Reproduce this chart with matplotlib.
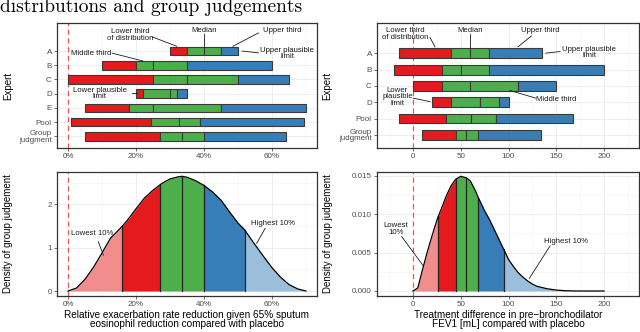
import numpy as np
import matplotlib.pyplot as plt
from matplotlib.ticker import MultipleLocator, FuncFormatter

plt.rcParams['font.family'] = ['Liberation Sans', 'DejaVu Sans']

RED = '#E41A1C'
GREEN = '#4DAF4A'
BLUE = '#377EB8'
LRED = '#F28D8E'
LBLUE = '#9BBEDB'

# exacerbation rate reduction: lower limit, 33%, median, 67%, upper limit
exa_experts = ['A', 'B', 'C', 'D', 'E', 'Pool', 'Group\njudgment']
exa_lower = [0.30, 0.10, 0.00, 0.20, 0.05, 0.01, 0.05]
exa_q33 = [0.35, 0.20, 0.25, 0.22, 0.18, 0.245, 0.27]
exa_median = [0.40, 0.25, 0.35, 0.30, 0.25, 0.327, 0.335]
exa_q67 = [0.45, 0.35, 0.50, 0.32, 0.45, 0.387, 0.40]
exa_upper = [0.50, 0.60, 0.65, 0.35, 0.70, 0.693, 0.64]

# FEV1 difference (mL)
fev_experts = ['A', 'B', 'C', 'D', 'Pool', 'Group\njudgment']
fev_lower = [-15, -20, 0, 20, -15, 9]
fev_q33 = [40, 30, 30, 40, 35, 44.5]
fev_median = [60, 50, 60, 70, 61, 56]
fev_q67 = [80, 80, 110, 90, 87, 68.5]
fev_upper = [135, 200, 150, 100, 167, 133.5]

# group judgement densities
exa_x = [0.0, 0.025, 0.05, 0.075, 0.10, 0.125, 0.15, 0.16, 0.175, 0.20, 0.225,
         0.25, 0.27, 0.275, 0.30, 0.325, 0.335, 0.35, 0.375, 0.40, 0.425, 0.45,
         0.475, 0.50, 0.52, 0.525, 0.55, 0.575, 0.60, 0.625, 0.65, 0.675, 0.70]
exa_dens = [0.00, 0.07, 0.27, 0.55, 0.88, 1.22, 1.42, 1.50, 1.64, 1.90, 2.15,
            2.33, 2.45, 2.48, 2.59, 2.64, 2.65, 2.63, 2.55, 2.44, 2.29, 2.10,
            1.83, 1.57, 1.41, 1.35, 1.07, 0.80, 0.54, 0.32, 0.15, 0.05, 0.00]
exa_quant = [0.16, 0.27, 0.335, 0.40, 0.52]

fev_x = [0, 5, 10, 15, 20, 25, 26.5, 30, 35, 40, 44.5, 50, 56, 60, 65, 68.5,
         75, 80, 85, 90, 95, 100, 105, 110, 115, 120, 125, 130, 140, 150, 160,
         170, 200]
fev_dens = [0.0, 0.0004, 0.0028, 0.0051, 0.0072, 0.0092, 0.0097, 0.0108,
            0.0124, 0.0137, 0.0145, 0.0149, 0.0147, 0.0143, 0.0131, 0.0121,
            0.0104, 0.0093, 0.0080, 0.0067, 0.0054, 0.0041, 0.0032, 0.0024,
            0.0018, 0.0013, 0.0009, 0.0006, 0.0003, 0.00012, 0.00003, 0.0, 0.0]
fev_quant = [26.5, 44.5, 56, 68.5, 95]


def style(ax):
    ax.grid(True, which='major', color='#EBEBEB', lw=0.6)
    ax.grid(True, which='minor', color='#F3F3F3', lw=0.4)
    ax.set_axisbelow(True)
    for s in ax.spines.values():
        s.set_color('#333333')
        s.set_linewidth(0.9)
    ax.tick_params(which='major', length=2.2, width=0.5, color='#333333',
                   labelcolor='#4D4D4D', labelsize=5.8, pad=1.5)
    ax.tick_params(which='minor', length=0)
    ax.axvline(0, color='#E8585A', ls=(0, (4, 3)), lw=0.9, zorder=1.5)


def expert_bars(ax, names, lo, q1, med, q2, hi):
    y = np.arange(len(names))[::-1] + 1
    for a, b, c in [(lo, q1, RED), (q1, med, GREEN), (med, q2, GREEN), (q2, hi, BLUE)]:
        ax.barh(y, np.array(b) - np.array(a), left=a, height=0.6, color=c,
                edgecolor='#3A3A3A', linewidth=0.8, zorder=3)
    ax.set_yticks(y, names)
    for lab in ax.get_yticklabels():
        lab.set_linespacing(0.85)
    ax.set_ylabel('Expert', fontsize=7.0)
    ax.yaxis.set_label_coords(-0.169, 0.5)


def density(ax, x, d, q):
    x = np.array(x)
    d = np.array(d)
    edges = [x[0]] + list(q) + [x[-1]]
    cols = [LRED, RED, GREEN, GREEN, BLUE, LBLUE]
    for a, b, c in zip(edges[:-1], edges[1:], cols):
        m = (x >= a - 1e-9) & (x <= b + 1e-9)
        ax.fill_between(x[m], 0, d[m], color=c, lw=0, zorder=2)
    for v in q:
        h = d[np.isclose(x, v)][0]
        ax.plot([v, v], [0, h], color='#222222', lw=0.9, zorder=3)
    ax.plot(x, d, color='black', lw=0.9, zorder=4)
    ax.set_ylabel('Density of group judgement', fontsize=7.0)
    ax.yaxis.set_label_coords(-0.169, 0.5)


def note(ax, text, xy, p0, p1):
    ax.text(xy[0], xy[1], text, ha='center', va='center', fontsize=5.6,
            linespacing=0.9, color='#1A1A1A', zorder=6)
    ax.plot([p0[0], p1[0]], [p0[1], p1[1]], color='#1A1A1A', lw=0.6, zorder=6)


fig = plt.figure(figsize=(6.4, 3.32), dpi=100)
ax1 = fig.add_axes([57 / 640, 1 - 148 / 332, 260 / 640, 125 / 332])
ax2 = fig.add_axes([377 / 640, 1 - 148.3 / 332, 262 / 640, 125 / 332])
ax3 = fig.add_axes([57 / 640, 1 - 296 / 332, 260 / 640, 124 / 332])
ax4 = fig.add_axes([377 / 640, 1 - 296 / 332, 262 / 640, 124.3 / 332])
for ax in (ax1, ax2, ax3, ax4):
    style(ax)

pct = FuncFormatter(lambda v, p: '%d%%' % round(v * 100))

# top left
expert_bars(ax1, exa_experts, exa_lower, exa_q33, exa_median, exa_q67, exa_upper)
ax1.set_xlim(-0.0324, 0.7324)
ax1.set_ylim(0.18, 8.97)
ax1.set_xticks([0, 0.2, 0.4, 0.6])
ax1.xaxis.set_major_formatter(pct)
ax1.xaxis.set_minor_locator(MultipleLocator(0.1))
note(ax1, 'Lower third\nof distribution', (0.182, 8.13), (0.247, 8.0), (0.32, 7.33))
note(ax1, 'Median', (0.40, 8.42), (0.40, 8.18), (0.40, 7.3))
note(ax1, 'Upper third', (0.63, 8.42), (0.56, 8.27), (0.485, 7.33))
note(ax1, 'Upper plausible\nlimit', (0.645, 6.83), (0.512, 7.0), (0.56, 6.87))
note(ax1, 'Middle third', (0.068, 6.85), (0.13, 6.85), (0.22, 6.3))
note(ax1, 'Lower plausible\nlimit', (0.093, 4.0), (0.188, 4.05), (0.202, 4.05))

# top right
expert_bars(ax2, fev_experts, fev_lower, fev_q33, fev_median, fev_q67, fev_upper)
ax2.set_xlim(-37.7, 236.6)
ax2.set_ylim(0.18, 7.84)
ax2.set_xticks([0, 50, 100, 150, 200])
ax2.xaxis.set_minor_locator(MultipleLocator(25))
note(ax2, 'Lower third\nof distribution', (-7.7, 7.18), (17.8, 6.97), (23, 6.4))
note(ax2, 'Median', (60, 7.38), (60, 7.18), (60, 6.3))
note(ax2, 'Upper third', (133, 7.38), (124, 7.07), (110, 6.4))
note(ax2, 'Upper plausible\nlimit', (184.6, 6.05), (139, 6.01), (154, 6.11))
note(ax2, 'Middle third', (150, 3.19), (101.6, 3.72), (128.8, 3.25))
note(ax2, 'Lower\nplausible\nlimit', (-16.4, 3.35), (0.4, 3.25), (17.8, 3.04))

# bottom left
density(ax3, exa_x, exa_dens, exa_quant)
ax3.set_xlim(-0.0324, 0.7324)
ax3.set_ylim(-0.115, 2.75)
ax3.set_xticks([0, 0.2, 0.4, 0.6])
ax3.xaxis.set_major_formatter(pct)
ax3.xaxis.set_minor_locator(MultipleLocator(0.1))
ax3.set_yticks([0, 1, 2])
ax3.yaxis.set_minor_locator(MultipleLocator(0.5))
ax3.set_xlabel('Relative exacerbation rate reduction given 65% sputum\n'
               'eosinophil reduction compared with placebo', fontsize=7.2,
               linespacing=0.95)
ax3.xaxis.set_label_coords(0.5, -0.11)
note(ax3, 'Lowest 10%', (0.0716, 1.32), (0.089, 1.14), (0.104, 0.83))
note(ax3, 'Highest 10%', (0.602, 1.55), (0.58, 1.45), (0.555, 1.1))

# bottom right
density(ax4, fev_x, fev_dens, fev_quant)
ax4.set_xlim(-37.7, 236.6)
ax4.set_ylim(-0.00065, 0.0155)
ax4.set_xticks([0, 50, 100, 150, 200])
ax4.xaxis.set_minor_locator(MultipleLocator(25))
ax4.set_yticks([0, 0.005, 0.010, 0.015], ['0.000', '0.005', '0.010', '0.015'])
ax4.yaxis.set_minor_locator(MultipleLocator(0.0025))
ax4.set_xlabel('Treatment difference in pre\u2212bronchodilator\n'
               'FEV1 [mL] compared with placebo', fontsize=7.2,
               linespacing=0.95)
ax4.xaxis.set_label_coords(0.5, -0.11)
note(ax4, 'Lowest\n10%', (-17.8, 0.00803), (-11.8, 0.00707), (10.8, 0.00326))
note(ax4, 'Highest 10%', (160, 0.00642), (143.5, 0.00586), (121.8, 0.00165))

fig.text(0.0, 1 - 12.5 / 332, 'distributions and group judgements',
         fontfamily='cmr10', fontsize=14, va='baseline')

fig.savefig('out.png', dpi=100)
